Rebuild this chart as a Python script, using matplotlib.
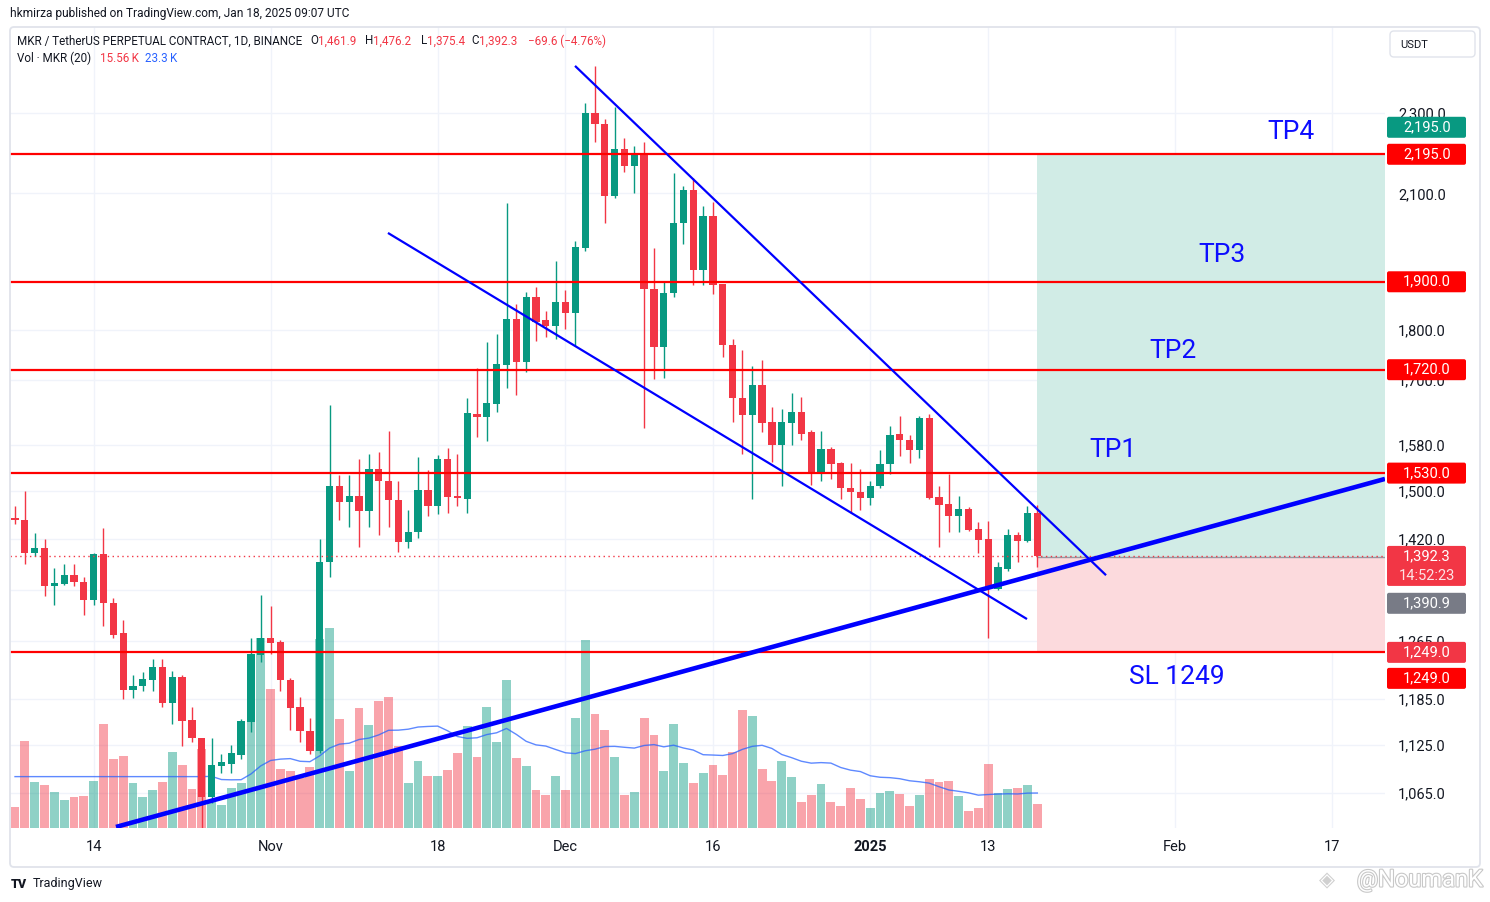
import numpy as np
import pandas as pd
import matplotlib
matplotlib.use("Agg")
import matplotlib.pyplot as plt
from matplotlib.patches import FancyBboxPatch
from matplotlib.transforms import blended_transform_factory
from matplotlib.ticker import FuncFormatter, NullLocator
import matplotlib.patheffects as pe

plt.rcParams['font.family'] = ['Roboto', 'DejaVu Sans']

# ---------------- data (MKR/USDT perpetual, 1D) ----------------
start_date = "2024-10-06"

opens = [1454, 1451, 1398, 1406, 1347, 1350, 1364, 1353, 1326, 1396,
         1321, 1276, 1197, 1202, 1211, 1229, 1180, 1214, 1157, 1134,
         1060, 1098, 1101, 1112, 1154, 1245, 1269, 1264, 1211, 1174,
         1143, 1117, 1383, 1507, 1480, 1491, 1465, 1537, 1517, 1484,
         1416, 1431, 1501, 1474, 1555, 1491, 1486, 1636, 1631, 1655,
         1730, 1822, 1736, 1868, 1820, 1807, 1857, 1835, 1975, 2299,
         2272, 2094, 2208, 2165, 2193, 1884, 1764, 1876, 2031, 2108,
         1926, 2047, 1895, 1768, 1665, 1634, 1691, 1622, 1579, 1620,
         1640, 1602, 1528, 1572, 1547, 1505, 1498, 1488, 1507, 1545,
         1600, 1589, 1571, 1629, 1489, 1477, 1458, 1469, 1437, 1420,
         1342, 1373, 1426, 1417, 1461.9]

highs = [1474, 1500, 1429, 1420, 1374, 1381, 1381, 1360, 1398, 1438,
         1328, 1295, 1218, 1222, 1240, 1240, 1223, 1218, 1174, 1134,
         1134, 1113, 1125, 1158, 1270, 1333, 1316, 1266, 1213, 1188,
         1160, 1420, 1653, 1526, 1526, 1554, 1563, 1567, 1605, 1516,
         1468, 1558, 1536, 1561, 1574, 1563, 1665, 1723, 1775, 1791,
         2077, 1852, 1879, 1889, 1839, 1946, 1883, 1990, 2325, 2426,
         2285, 2316, 2237, 2216, 2226, 1974, 1899, 2149, 2118, 2138,
         2070, 2080, 1895, 1781, 1759, 1728, 1739, 1648, 1646, 1675,
         1668, 1607, 1605, 1576, 1550, 1547, 1538, 1516, 1571, 1614,
         1633, 1597, 1633, 1636, 1507, 1529, 1491, 1473, 1447, 1450,
         1384, 1437, 1432, 1474, 1476.2]

lows = [1445, 1381, 1393, 1331, 1318, 1348, 1347, 1303, 1318, 1287,
        1270, 1185, 1186, 1196, 1195, 1174, 1152, 1123, 1128, 1024,
        1053, 1089, 1089, 1107, 1141, 1236, 1246, 1195, 1144, 1129,
        1113, 1114, 1361, 1451, 1439, 1408, 1439, 1427, 1440, 1400,
        1405, 1421, 1457, 1461, 1463, 1474, 1463, 1593, 1586, 1640,
        1684, 1671, 1716, 1776, 1784, 1781, 1802, 1767, 1967, 2227,
        2030, 2088, 2151, 2102, 1611, 1702, 1703, 1868, 1983, 1893,
        1893, 1874, 1744, 1622, 1563, 1486, 1602, 1550, 1507, 1579,
        1589, 1510, 1517, 1519, 1486, 1463, 1468, 1476, 1505, 1529,
        1560, 1548, 1557, 1486, 1408, 1431, 1431, 1433, 1398, 1270,
        1341, 1370, 1383, 1416, 1375.4]

closes = [1451, 1398, 1406, 1347, 1351, 1364, 1352, 1326, 1396, 1321,
          1274, 1197, 1203, 1212, 1229, 1180, 1214, 1156, 1133, 1060,
          1100, 1103, 1114, 1155, 1246, 1269, 1263, 1210, 1173, 1142,
          1117, 1384, 1507, 1480, 1491, 1465, 1537, 1516, 1484, 1416,
          1431, 1501, 1474, 1555, 1490, 1487, 1637, 1631, 1656, 1731,
          1822, 1736, 1868, 1816, 1807, 1857, 1835, 1977, 2299, 2272,
          2094, 2208, 2165, 2193, 1884, 1764, 1876, 2031, 2108, 1926,
          2047, 1893, 1768, 1665, 1634, 1691, 1620, 1579, 1622, 1640,
          1599, 1528, 1572, 1545, 1504, 1497, 1488, 1508, 1546, 1598,
          1588, 1571, 1629, 1488, 1476, 1458, 1469, 1435, 1419, 1342,
          1375, 1426, 1417, 1462, 1392.3]

volumes_k = [13.7, 57.2, 30.2, 28.2, 23.6, 18.3, 20.3, 20.9, 30.8, 68.4,
             45.5, 47.3, 29.5, 20.3, 24.9, 30.2, 50.0, 41.4, 25.5, 52.1,
             17.0, 15.4, 26.4, 29.7, 99.0, 125.4, 91.7, 38.9, 37.4, 33.0,
             40.3, 124.7, 132.0, 71.9, 37.4, 79.2, 68.2, 83.6, 86.5, 53.9,
             29.7, 44.0, 34.1, 34.1, 38.1, 49.3, 67.1, 46.7, 79.7, 56.6,
             97.5, 46.0, 40.7, 24.9, 21.6, 34.1, 24.9, 72.4, 123.9, 75.0,
             64.5, 46.7, 21.6, 23.6, 72.4, 61.2, 37.4, 68.4, 42.7, 29.5,
             36.1, 41.4, 34.8, 50.0, 77.7, 73.7, 38.7, 30.8, 44.0, 33.5,
             17.0, 21.6, 28.8, 17.0, 14.3, 26.2, 18.9, 13.0, 22.9, 24.2,
             22.2, 14.3, 21.6, 32.1, 30.2, 30.8, 20.9, 11.0, 13.0, 42.0,
             22.9, 25.5, 26.2, 28.2, 15.56]

x_tick_dates = ["2024-10-14", "2024-11-01", "2024-11-18", "2024-12-01", "2024-12-16",
                "2025-01-01", "2025-01-13", "2025-02-01", "2025-02-17"]
x_tick_labels = ["14", "Nov", "18", "Dec", "16", "2025", "13", "Feb", "17"]
price_ticks = [2300, 2100, 1800, 1700, 1580, 1500, 1420, 1340, 1265, 1185, 1125, 1065]
hidden_price_tick_labels = [1340]

level_prices = [2195.0, 1900.0, 1720.0, 1530.0, 1249.0]
entry_price = 1390.9
target_price = 2195.0
stop_price = 1249.0

# trend-line drawings (day offset from start, price)
upper_wedge_x = [56.97, 110.99]
upper_wedge_p = [2426, 1363]
lower_wedge_x = [37.94, 102.95]
lower_wedge_p = [2008, 1297]
support_x = [10.27, 139.37]
support_p = [1025, 1520]

tp_texts = ["TP4", "TP3", "TP2", "TP1", "SL 1249"]
tp_x = [129.8, 122.8, 117.8, 111.7, 118.2]
tp_p = [2250, 1958, 1756, 1571, 1215]

# ---------------- derived ----------------
o = np.array(opens, float); h = np.array(highs, float)
l = np.array(lows, float); c = np.array(closes, float)
v = np.array(volumes_k, float)
n = len(o)
dates = pd.date_range(start_date, periods=n, freq="D")
xi = np.arange(n)
tick_x = [(pd.Timestamp(d) - dates[0]).days for d in x_tick_dates]
vol_ma = pd.Series(v).rolling(20).mean().bfill().values

GREEN = '#089981'
RED = '#f23645'
DARK = '#131722'
up = c >= o
cols = np.where(up, GREEN, RED)

W, H = 1490, 902
fig = plt.figure(figsize=(W / 100, H / 100), dpi=100)
fig.patch.set_facecolor('white')

L_px, R_px, T_px, B_px = 10, 1385, 27, 828
ax = fig.add_axes([L_px / W, 1 - B_px / H, (R_px - L_px) / W, (B_px - T_px) / H])
ax2 = ax.twinx()
ax.set_zorder(2)
ax2.set_zorder(1)
ax.patch.set_visible(False)
ax2.patch.set_visible(True)
ax2.patch.set_facecolor('white')

XMIN, XMAX = -0.51, 139.37
ax.set_xlim(XMIN, XMAX)
ax.set_yscale('log')
ax.set_ylim(1023.8, 2535.2)
ax2.set_ylim(0, 528.7)
ax2.set_yticks([])

for a in (ax, ax2):
    for s in a.spines.values():
        s.set_visible(False)

# grid (behind everything, drawn on the volume axes)
gtrans = blended_transform_factory(ax2.transAxes, ax.transData)
for p in price_ticks:
    ax2.plot([0, 1], [p, p], transform=gtrans, color='#f0f3fa', lw=1.0, zorder=0)
for t in tick_x:
    ax2.axvline(t, color='#f0f3fa', lw=1.0, zorder=0)

# volume
vol_cols = np.where(up, GREEN, RED)
ax2.bar(xi, v, width=0.9, color=vol_cols, alpha=0.45, linewidth=0, zorder=1)
ax2.plot(xi, vol_ma, color='#2962ff', lw=1.0, alpha=0.75, zorder=2)

# position zones
ax.fill_between([n - 1, XMAX], entry_price, target_price, color='#d1ece6', lw=0, zorder=1)
ax.fill_between([n - 1, XMAX], stop_price, entry_price, color='#fcdadd', lw=0, zorder=1)
ax.hlines(entry_price, n - 1, XMAX, color='#9598a1', lw=1.0, zorder=2)

# candles
body_bot = np.minimum(o, c)
body_h = np.maximum(np.abs(c - o), body_bot * 0.0013)
ax.vlines(xi, l, h, colors=cols, lw=1.0, zorder=3)
ax.bar(xi, body_h, bottom=body_bot, width=0.74, color=cols, linewidth=0, zorder=3.1)

# current price dotted line
ax.axhline(c[-1], color=RED, lw=1.0, ls=(0, (1, 2.5)), zorder=4)

# horizontal levels
for p in level_prices:
    ax.axhline(p, color='#ff0000', lw=1.6, zorder=5)

# trend lines
ax.plot(upper_wedge_x, upper_wedge_p, color='#0000ff', lw=1.6, zorder=6, solid_capstyle='butt')
ax.plot(lower_wedge_x, lower_wedge_p, color='#0000ff', lw=1.6, zorder=6, solid_capstyle='butt')
ax.plot(support_x, support_p, color='#0000ff', lw=3.3, zorder=6, solid_capstyle='butt', clip_on=True)

# TP / SL labels
for t, x, p in zip(tp_texts, tp_x, tp_p):
    ax.text(x, p, t, color='#0d0dff', fontsize=19, ha='center', va='center', zorder=7)

# axes ticks
ax.set_xticks(tick_x)
ax.set_xticklabels(x_tick_labels)
ax.tick_params(axis='x', length=0, pad=8.5, labelsize=10.5, labelcolor=DARK)
for lbl in ax.get_xticklabels():
    if lbl.get_text() == '2025':
        lbl.set_fontweight('bold')
ax.yaxis.tick_right()
ax.set_yticks(price_ticks)
ax.yaxis.set_major_formatter(FuncFormatter(
    lambda val, pos: "" if round(val) in hidden_price_tick_labels else f"{val:,.1f}"))
ax.yaxis.set_minor_locator(NullLocator())
ax.tick_params(axis='y', length=0, pad=9.5, labelsize=10.5, labelcolor=DARK)

# ---------------- overlay (pixel coordinates) ----------------
ov = fig.add_axes([0, 0, 1, 1], zorder=10)
ov.set_xlim(0, W)
ov.set_ylim(H, 0)
ov.axis('off')
ov.patch.set_visible(False)

def py(price):
    return H - ax.transData.transform((0, price))[1]

renderer = fig.canvas.get_renderer()

def text_w(t):
    return t.get_window_extent(renderer).width

def fitted(x, y, s, target_w, color, size0=9, **kw):
    t = ov.text(x, y, s, color=color, fontsize=size0, ha='left', va='center', **kw)
    w = text_w(t)
    t.set_fontsize(size0 * target_w / w)
    return t

# frame
ov.add_patch(FancyBboxPatch((10, 27), 1470, 840, boxstyle='round,pad=0,rounding_size=4',
                            fc='none', ec='#e0e3eb', lw=1.3, zorder=1))

# header
fitted(10, 14, "hkmirza published on TradingView.com, Jan 18, 2025 09:07 UTC", 342, DARK)
t0 = fitted(17, 41, "MKR / TetherUS PERPETUAL CONTRACT, 1D, BINANCE", 285, DARK)
fs = t0.get_fontsize()
for letter, val, x0 in [("O", "1,461.9", 310), ("H", "1,476.2", 365),
                        ("L", "1,375.4", 421), ("C", "1,392.3", 471)]:
    tl = ov.text(x0, 41, letter, color=DARK, fontsize=fs, ha='left', va='center')
    ov.text(x0 + text_w(tl), 41, val, color=RED, fontsize=fs, ha='left', va='center')
ov.text(528, 41, "\u221269.6 (\u22124.76%)", color=RED, fontsize=fs, ha='left', va='center')
ov.text(17, 58, "Vol \u00b7 MKR (20)", color=DARK, fontsize=fs, ha='left', va='center')
ov.text(100, 58, "15.56\u2009K", color=RED, fontsize=fs, ha='left', va='center',
        family=['Roboto', 'DejaVu Sans'])
ov.text(145, 58, "23.3\u2009K", color='#2962ff', fontsize=fs, ha='left', va='center',
        family=['Roboto', 'DejaVu Sans'])

# USDT button
ov.add_patch(FancyBboxPatch((1390, 31), 85, 26, boxstyle='round,pad=0,rounding_size=4',
                            fc='white', ec='#e0e3eb', lw=1.0, zorder=2))
ov.text(1400, 44.5, "USDT", color=DARK, fontsize=8, ha='left', va='center', zorder=3)

# right-side price tags
def tag(y, lines, fc, tcols=None, h=21):
    nl = len(lines)
    hh = h + (nl - 1) * 19
    ov.add_patch(FancyBboxPatch((1387, y - h / 2), 79, hh, boxstyle='round,pad=0,rounding_size=2',
                                fc=fc, ec='none', zorder=20))
    for k, s in enumerate(lines):
        col = 'white' if tcols is None else tcols[k]
        ov.text(1427, y + k * 20, s, color=col, fontsize=10.5, ha='center', va='center', zorder=21)

tag(py(target_price) - 27, [f"{target_price:,.1f}"], GREEN)
tag(py(level_prices[0]), [f"{level_prices[0]:,.1f}"], '#ff0000')
tag(py(level_prices[1]), [f"{level_prices[1]:,.1f}"], '#ff0000')
tag(py(level_prices[2]), [f"{level_prices[2]:,.1f}"], '#ff0000')
tag(py(level_prices[3]), [f"{level_prices[3]:,.1f}"], '#ff0000')
tag(py(c[-1]), [f"{c[-1]:,.1f}", "14:52:23"], RED, tcols=['white', '#fde3e5'])
tag(py(entry_price) + 46, [f"{entry_price:,.1f}"], '#787b86')
tag(py(stop_price), [f"{stop_price:,.1f}"], RED)
tag(py(level_prices[4]) + 26, [f"{level_prices[4]:,.1f}"], '#ff0000')

# footer
ov.text(11, 884, "TV", color=DARK, fontsize=9, fontweight='heavy', ha='left', va='center')
ov.text(33, 884, "TradingView", color=DARK, fontsize=9, ha='left', va='center')
ov.text(1327, 880, "\u25C8", color='#d0d0d0', fontsize=15, ha='center', va='center',
        family=['DejaVu Sans'])
ov.text(1483, 880, "@NoumanK", color='white', fontsize=17, ha='right', va='center',
        path_effects=[pe.withStroke(linewidth=1.6, foreground='#c8c8c8')])

fig.savefig("out.png", dpi=100, facecolor='white')
